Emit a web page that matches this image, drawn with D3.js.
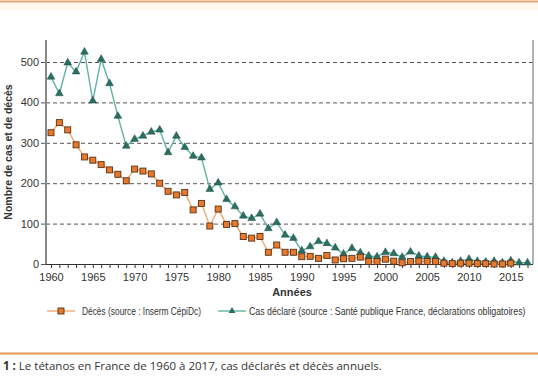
<!DOCTYPE html>
<html>
<head>
<meta charset="utf-8">
<script src="https://cdn.jsdelivr.net/npm/d3@7"></script>
<style>
  body { margin: 0; background: #fff; }
  svg { display: block; }
</style>
</head>
<body>
<svg id="chart" width="538" height="384"></svg>
<script>
const years = d3.range(1960, 2018);
const yTicks = [0, 100, 200, 300, 400, 500];

// Cas déclarés 1960-2017
const cas = [463, 422, 498, 476, 525, 404, 507, 447, 366, 292,
             309, 317, 327, 332, 276, 317, 289, 267, 263, 185,
             201, 160, 142, 119, 113, 124, 88, 103, 72, 64,
             33, 43, 56, 51, 40, 25, 39, 28, 20, 18,
             29, 26, 17, 30, 20, 18, 17, 7, 3, 7,
             12, 7, 5, 7, 3, 8, 3, 3];

// Décès 1960-2015
const deces = [325, 350, 332, 295, 265, 257, 246, 233, 222, 206,
               235, 230, 223, 200, 180, 171, 177, 134, 150, 94,
               136, 98, 100, 68, 64, 68, 29, 47, 29, 29,
               18, 19, 14, 21, 10, 13, 14, 17, 6, 6,
               12, 7, 3, 6, 7, 6, 6, 2, 1, 2,
               2, 1, 1, 0, 0, 2];

const svg = d3.select("#chart");
const plotL = 46, plotR = 533, plotT = 40, plotB = 264;

const x = d3.scaleLinear().domain([1960, 2017]).range([51, 527.5]);
const y = d3.scaleLinear().domain([0, 500]).range([plotB, 62]);

// header / footer decoration
svg.append("rect").attr("x", 0).attr("y", 3).attr("width", 538).attr("height", 7).attr("fill", "#fdf7ee");
svg.append("line").attr("x1", 0).attr("x2", 538).attr("y1", 1.5).attr("y2", 1.5)
    .attr("stroke", "#e3a56a").attr("stroke-width", 2);
svg.append("line").attr("x1", 0).attr("x2", 538).attr("y1", 353.5).attr("y2", 353.5)
    .attr("stroke", "#e69a55").attr("stroke-width", 2);

// gridlines
svg.append("g").selectAll("line").data(yTicks.filter(d => d > 0)).enter().append("line")
    .attr("x1", plotL).attr("x2", plotR)
    .attr("y1", d => y(d) + 0.5).attr("y2", d => y(d) + 0.5)
    .attr("stroke", "#555").attr("stroke-width", 1).attr("stroke-dasharray", "4,3");

// y axis
const yAxis = svg.append("g").attr("transform", `translate(${plotL},0)`)
    .call(d3.axisLeft(y).tickValues(yTicks).tickSize(5).tickPadding(2));
yAxis.select(".domain").remove();
yAxis.selectAll(".tick line").attr("stroke", "#555");
yAxis.selectAll("text").attr("font-family", "Liberation Sans, Arial, sans-serif")
    .attr("font-size", 11).attr("fill", "#333");

svg.append("line").attr("x1", plotL).attr("x2", plotL).attr("y1", plotT).attr("y2", plotB)
    .attr("stroke", "#888").attr("stroke-width", 2);
svg.append("line").attr("x1", plotR).attr("x2", plotR).attr("y1", plotT).attr("y2", plotB)
    .attr("stroke", "#999").attr("stroke-width", 1.5);

// x axis
const xAxis = svg.append("g").attr("transform", `translate(0,${plotB})`)
    .call(d3.axisBottom(x).tickValues(years).tickSize(4).tickPadding(5)
        .tickFormat(d => d % 5 === 0 ? d : ""));
xAxis.select(".domain").remove();
xAxis.selectAll(".tick line").attr("stroke", "#333");
xAxis.selectAll("text").attr("font-family", "Liberation Sans, Arial, sans-serif")
    .attr("font-size", 11).attr("fill", "#333");
svg.append("line").attr("x1", plotL).attr("x2", plotR).attr("y1", plotB + 0.5).attr("y2", plotB + 0.5)
    .attr("stroke", "#333").attr("stroke-width", 1.2);

// axis titles
svg.append("text").attr("x", 292).attr("y", 296).attr("text-anchor", "middle")
    .attr("font-family", "Liberation Sans, Arial, sans-serif").attr("font-weight", "bold")
    .attr("font-size", 11).attr("fill", "#333").text("Années");
svg.append("text").attr("transform", "translate(12,152) rotate(-90)").attr("text-anchor", "middle")
    .attr("font-family", "Liberation Sans, Arial, sans-serif").attr("font-weight", "bold")
    .attr("font-size", 10.5).attr("fill", "#333").text("Nombre de cas et de décès");

// series
const lineGen = d3.line().x(d => x(d[0])).y(d => y(d[1]));
const casPts = cas.map((v, i) => [years[i], v]);
const decesPts = deces.map((v, i) => [years[i], v]);

const casColor = "#5fb3a3", casMark = "#2b6e62";
const decColor = "#efaa72", decMark = "#e8782a";

svg.append("path").datum(casPts).attr("d", lineGen)
    .attr("fill", "none").attr("stroke", casColor).attr("stroke-width", 1.4);
svg.append("path").datum(decesPts).attr("d", lineGen)
    .attr("fill", "none").attr("stroke", decColor).attr("stroke-width", 1.4);

const tri = d3.symbol().type(d3.symbolTriangle).size(26);
svg.append("g").selectAll("path").data(casPts).enter().append("path")
    .attr("d", tri).attr("transform", d => `translate(${x(d[0])},${y(d[1])})`)
    .attr("fill", casMark).attr("stroke", "#1f4f46").attr("stroke-width", 0.5);

svg.append("g").selectAll("rect").data(decesPts).enter().append("rect")
    .attr("x", d => x(d[0]) - 3).attr("y", d => y(d[1]) - 3)
    .attr("width", 6).attr("height", 6)
    .attr("fill", decMark).attr("stroke", "#5a3218").attr("stroke-width", 0.9);

// legend: condensed text, squeezed horizontally to the reference width
function narrowText(g, x0, yb, width, str) {
    const t = g.append("text").attr("x", 0).attr("y", 0)
        .attr("font-family", "Liberation Sans Narrow, Arial Narrow, Liberation Sans, sans-serif")
        .attr("font-size", 11).attr("fill", "#333").text(str);
    const w = t.node().getComputedTextLength();
    t.attr("transform", `translate(${x0},${yb}) scale(${width / w},1)`);
}
const legY = 311;
const lg = svg.append("g");
lg.append("line").attr("x1", 47).attr("x2", 75).attr("y1", legY).attr("y2", legY)
    .attr("stroke", decColor).attr("stroke-width", 1.4);
lg.append("rect").attr("x", 58).attr("y", legY - 3).attr("width", 6).attr("height", 6)
    .attr("fill", decMark).attr("stroke", "#5a3218").attr("stroke-width", 0.9);
narrowText(lg, 82, legY + 4, 119, "Décès (source : Inserm CépiDc)");
lg.append("line").attr("x1", 218).attr("x2", 246).attr("y1", legY).attr("y2", legY)
    .attr("stroke", casColor).attr("stroke-width", 1.4);
lg.append("path").attr("d", d3.symbol().type(d3.symbolTriangle).size(20))
    .attr("transform", `translate(232,${legY})`).attr("fill", casMark);
narrowText(lg, 249, legY + 4, 277, "Cas déclaré (source : Santé publique France, déclarations obligatoires)");

// caption
const cap = svg.append("text").attr("x", 3).attr("y", 370)
    .attr("font-family", "Open Sans, Liberation Sans, sans-serif").attr("font-size", 11.5).attr("fill", "#333");
cap.append("tspan").attr("font-weight", "bold").text("1 :");
cap.append("tspan").text(" Le tétanos en France de 1960 à 2017, cas déclarés et décès annuels.");
</script>
</body>
</html>
